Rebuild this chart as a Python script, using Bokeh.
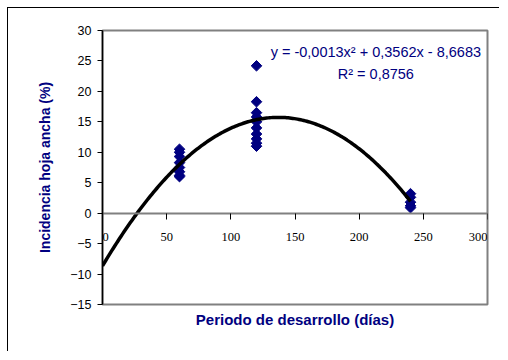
import numpy as np
from bokeh.plotting import figure
from bokeh.models import Range1d, LabelSet, Label, ColumnDataSource, LinearAxis, FixedTicker, Title
from bokeh.embed import file_html
from bokeh.resources import INLINE

# Observed incidence (%) by development period (days)
period_60 = [60, 60, 60, 60, 60, 60, 60, 60]
incid_60 = [10.5, 10.0, 9.3, 8.3, 7.5, 6.8, 6.2, 6.0]
period_120 = [120, 120, 120, 120, 120, 120, 120, 120, 120, 120]
incid_120 = [24.2, 18.3, 16.5, 15.8, 15.0, 14.0, 13.0, 12.2, 11.5, 11.0]
period_240 = [240, 240, 240, 240, 240]
incid_240 = [3.2, 2.6, 1.8, 1.2, 0.9]

# Polynomial trend line (as printed on the chart)
coef_a = -0.0013
coef_b = 0.3562
coef_c = -8.6683
r_squared = 0.8756
trend_x_start = 0
trend_x_end = 240

x_ticks = [0, 50, 100, 150, 200, 250, 300]
x_tick_labels = ["0", "50", "100", "150", "200", "250", "300"]
x_tick_align = ["left", "center", "center", "center", "center", "center", "right"]
y_ticks = [-15, -10, -5, 0, 5, 10, 15, 20, 25, 30]

x_title = "Periodo de desarrollo (días)"
y_title = "Incidencia hoja ancha (%)"

NAVY = "#000080"
FONT = "Liberation Sans"

xs = period_60 + period_120 + period_240
ys = incid_60 + incid_120 + incid_240

p = figure(width=492, height=344, x_range=Range1d(0, 300), y_range=Range1d(-15, 30),
           output_backend="svg", toolbar_location=None, x_axis_location=None,
           min_border_left=94, min_border_right=13, min_border_top=22, min_border_bottom=48)
p.xgrid.visible = False
p.ygrid.visible = False
p.outline_line_color = "#808080"
p.outline_line_width = 2
p.background_fill_color = "white"
p.border_fill_color = None
p.styles = {"margin-left": "7px", "margin-top": "7px",
            "border-left": "1px solid black", "border-top": "1px solid black"}

# y axis
p.yaxis.ticker = y_ticks
p.yaxis.axis_line_color = "black"
p.yaxis.axis_line_width = 1.5
p.yaxis.major_tick_line_color = "black"
p.yaxis.major_tick_out = 5
p.yaxis.major_tick_in = 0
p.yaxis.minor_tick_line_color = None
p.yaxis.major_label_standoff = 6
p.yaxis.major_label_text_font = FONT
p.yaxis.major_label_text_font_size = "12.5px"
p.yaxis.major_label_text_color = "black"
p.yaxis.axis_label = y_title
p.yaxis.axis_label_text_font = FONT
p.yaxis.axis_label_text_font_size = "14px"
p.yaxis.axis_label_text_font_style = "bold"
p.yaxis.axis_label_text_color = NAVY
p.yaxis.axis_label_standoff = 14

# x axis line crossing at y = 0 (tick marks only; labels drawn below)
zero_axis = LinearAxis(fixed_location=0, ticker=FixedTicker(ticks=[], minor_ticks=x_ticks),
                       axis_line_color="#808080", axis_line_width=2,
                       major_tick_line_color=None,
                       minor_tick_line_color="black", minor_tick_out=6, minor_tick_in=0,
                       minor_tick_line_width=1)
p.add_layout(zero_axis, "below")

# x title below the plot area
p.add_layout(Title(text=x_title, align="center", offset=-11, standoff=8,
                   text_font=FONT, text_font_size="15px", text_font_style="bold",
                   text_color=NAVY), "below")

tick_src = ColumnDataSource(dict(x=x_ticks, y=[0] * len(x_ticks), t=x_tick_labels, a=x_tick_align))
p.add_layout(LabelSet(x="x", y="y", text="t", source=tick_src, y_offset=-24,
                      text_align="a", text_baseline="middle",
                      text_font=FONT, text_font_size="12.5px", text_color="black"))

# data points
p.scatter(xs, ys, marker="square", angle=np.pi / 4, size=7.5,
          fill_color=NAVY, line_color=NAVY, line_width=1)

# trend line
tx = np.linspace(trend_x_start, trend_x_end, 200)
ty = coef_a * tx ** 2 + coef_b * tx + coef_c
p.line(tx, ty, line_color="black", line_width=3.5)

def fmt(v):
    return f"{abs(v):.4f}".replace(".", ",")

eq_text = f"y = -{fmt(coef_a)}x² + {fmt(coef_b)}x - {fmt(coef_c)}"
p.add_layout(Label(x=213, y=26.4, text=eq_text, text_align="center", text_baseline="middle",
                   text_font=FONT, text_font_size="14.5px", text_color=NAVY))
p.add_layout(Label(x=213, y=22.9, text=f"R² = {fmt(r_squared)}", text_align="center",
                   text_baseline="middle", text_font=FONT, text_font_size="14.5px", text_color=NAVY))

open("out.html", "w").write(file_html(p, INLINE))
